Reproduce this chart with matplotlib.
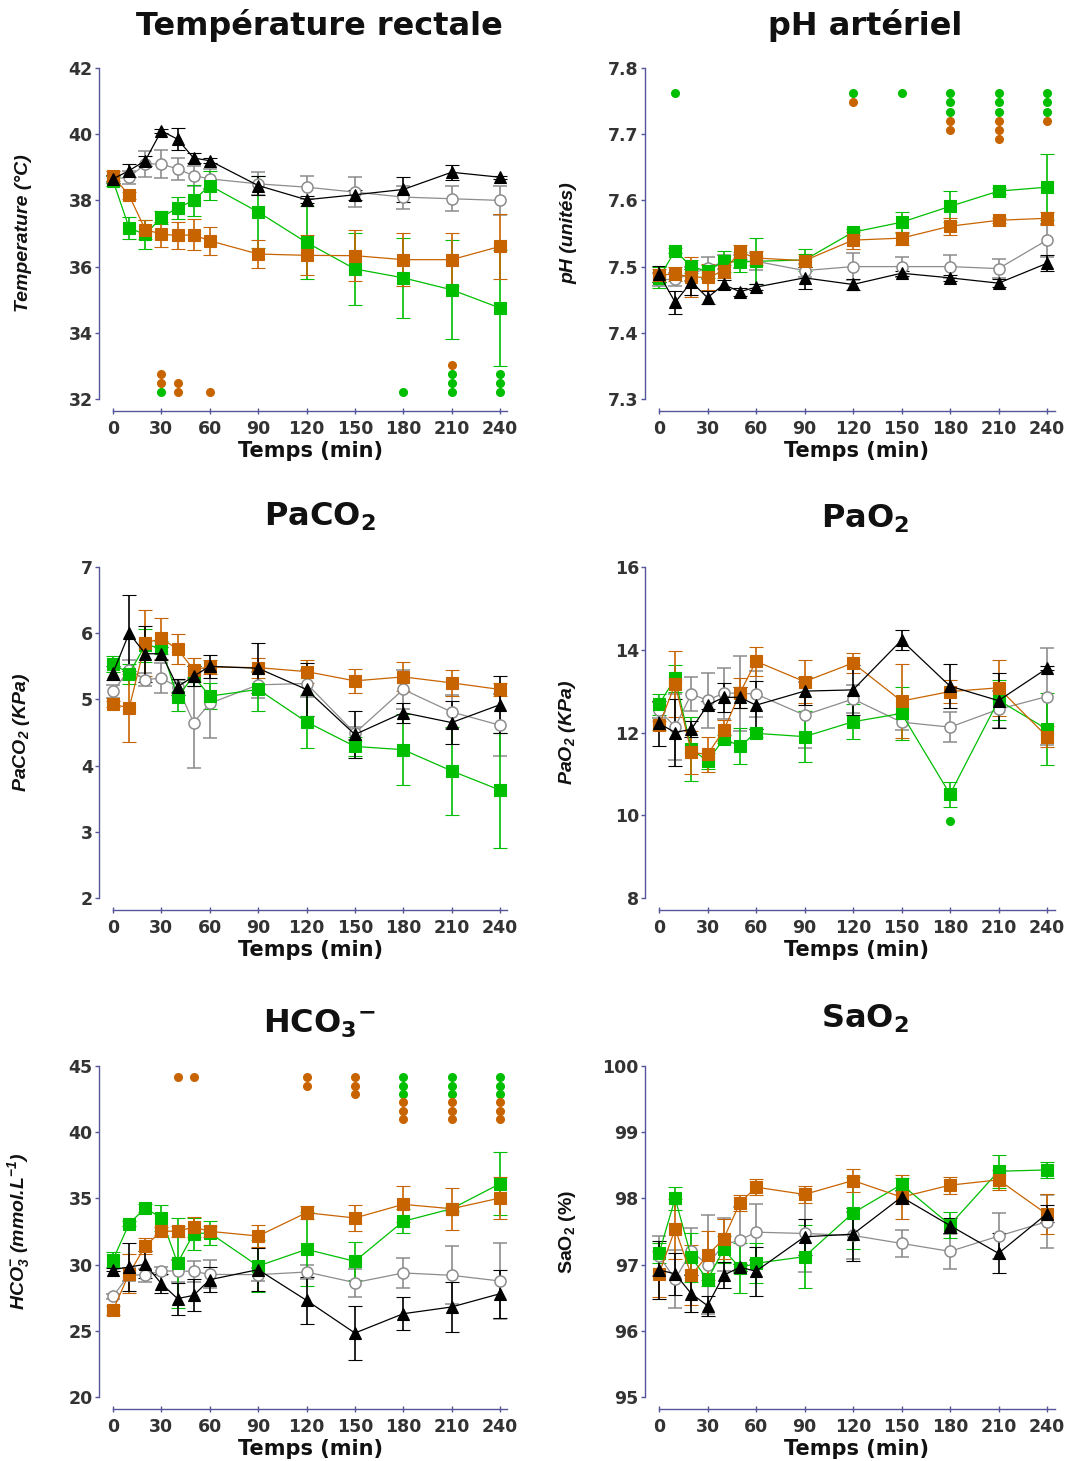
import matplotlib
matplotlib.use('Agg')
import matplotlib.pyplot as plt

plt.rcParams['font.family'] = ['DejaVu Sans']
plt.rcParams['mathtext.default'] = 'regular'

temps = [0, 10, 20, 30, 40, 50, 60, 90, 120, 150, 180, 210, 240]
xticks = [0, 30, 60, 90, 120, 150, 180, 210, 240]

# Température rectale (°C)
temp_noir = [38.65, 38.9, 39.2, 40.1, 39.85, 39.28, 39.2, 38.45, 38.02, 38.17, 38.33, 38.85, 38.7]
temp_noir_sd = [0.12, 0.2, 0.15, 0.05, 0.33, 0.15, 0.08, 0.3, 0.1, 0.15, 0.37, 0.22, 0.05]
temp_gris = [38.65, 38.7, 39.1, 39.1, 38.95, 38.75, 38.65, 38.5, 38.4, 38.25, 38.1, 38.05, 38.0]
temp_gris_sd = [0.1, 0.2, 0.38, 0.43, 0.32, 0.3, 0.3, 0.35, 0.35, 0.45, 0.35, 0.38, 0.45]
temp_vert = [38.6, 37.17, 36.97, 37.49, 37.77, 38.0, 38.45, 37.65, 36.73, 35.93, 35.66, 35.3, 34.75]
temp_vert_sd = [0.15, 0.33, 0.45, 0.2, 0.32, 0.46, 0.45, 1.1, 1.1, 1.1, 1.2, 1.5, 1.75]
temp_orange = [38.73, 38.15, 37.12, 36.98, 36.94, 36.96, 36.78, 36.38, 36.34, 36.33, 36.21, 36.21, 36.61]
temp_orange_sd = [0.15, 0.1, 0.3, 0.38, 0.42, 0.47, 0.43, 0.42, 0.6, 0.77, 0.8, 0.8, 0.97]

# pH artériel
ph_noir = [7.489, 7.446, 7.477, 7.453, 7.473, 7.462, 7.469, 7.483, 7.473, 7.490, 7.483, 7.475, 7.505]
ph_noir_sd = [0.012, 0.017, 0.02, 0.01, 0.007, 0.006, 0.004, 0.017, 0.008, 0.004, 0.004, 0.006, 0.012]
ph_gris = [7.480, 7.481, 7.489, 7.498, 7.507, 7.508, 7.508, 7.494, 7.5, 7.5, 7.5, 7.497, 7.54]
ph_gris_sd = [0.01, 0.01, 0.01, 0.016, 0.01, 0.01, 0.013, 0.01, 0.02, 0.015, 0.017, 0.014, 0.025]
ph_vert = [7.483, 7.524, 7.5, 7.493, 7.508, 7.507, 7.508, 7.51, 7.552, 7.567, 7.591, 7.614, 7.620]
ph_vert_sd = [0.016, 0.004, 0.01, 0.01, 0.016, 0.015, 0.035, 0.016, 0.005, 0.016, 0.023, 0.005, 0.05]
ph_orange = [7.487, 7.489, 7.484, 7.484, 7.493, 7.522, 7.513, 7.509, 7.54, 7.543, 7.561, 7.57, 7.573]
ph_orange_sd = [0.01, 0.01, 0.03, 0.02, 0.01, 0.01, 0.01, 0.01, 0.013, 0.01, 0.013, 0.004, 0.01]

# PaCO2 (KPa)
paco2_noir = [5.4, 6.0, 5.69, 5.69, 5.19, 5.35, 5.5, 5.47, 5.15, 4.47, 4.8, 4.65, 4.92]
paco2_noir_sd = [0.1, 0.57, 0.42, 0.1, 0.12, 0.15, 0.17, 0.38, 0.4, 0.35, 0.15, 0.32, 0.43]
paco2_gris = [5.12, 5.45, 5.3, 5.32, 5.19, 4.65, 4.94, 5.22, 5.24, 4.49, 5.15, 4.81, 4.61]
paco2_gris_sd = [0.1, 0.15, 0.1, 0.23, 0.1, 0.68, 0.52, 0.2, 0.2, 0.1, 0.3, 0.25, 0.47]
paco2_vert = [5.54, 5.39, 5.82, 5.78, 5.04, 5.35, 5.05, 5.15, 4.66, 4.29, 4.24, 3.92, 3.63]
paco2_vert_sd = [0.12, 0.15, 0.25, 0.1, 0.22, 0.15, 0.2, 0.33, 0.4, 0.14, 0.54, 0.67, 0.87]
paco2_orange = [4.93, 4.87, 5.85, 5.92, 5.76, 5.45, 5.49, 5.48, 5.42, 5.28, 5.34, 5.25, 5.15]
paco2_orange_sd = [0.05, 0.52, 0.5, 0.31, 0.23, 0.18, 0.1, 0.15, 0.17, 0.18, 0.22, 0.2, 0.1]

# PaO2 (KPa)
pao2_noir = [12.22, 12.0, 12.08, 12.66, 12.85, 12.85, 12.66, 13.0, 13.03, 14.23, 13.12, 12.77, 13.55]
pao2_noir_sd = [0.55, 0.8, 0.2, 0.1, 0.35, 0.25, 0.58, 0.33, 0.6, 0.24, 0.53, 0.67, 0.05]
pao2_gris = [12.54, 12.14, 12.93, 12.78, 12.95, 12.95, 12.93, 12.42, 12.81, 12.25, 12.13, 12.56, 12.87]
pao2_gris_sd = [0.2, 0.8, 0.42, 0.67, 0.62, 0.91, 0.55, 0.8, 0.35, 0.2, 0.37, 0.45, 1.18]
pao2_vert = [12.68, 13.31, 11.6, 11.31, 11.84, 11.68, 11.98, 11.9, 12.26, 12.46, 10.51, 12.78, 12.08]
pao2_vert_sd = [0.25, 0.32, 0.77, 0.2, 0.1, 0.44, 0.1, 0.62, 0.42, 0.64, 0.3, 0.48, 0.87]
pao2_orange = [12.17, 13.17, 11.52, 11.47, 12.05, 12.95, 13.72, 13.23, 13.68, 12.76, 12.99, 13.08, 11.9]
pao2_orange_sd = [0.1, 0.8, 0.52, 0.42, 0.25, 0.36, 0.35, 0.52, 0.24, 0.9, 0.28, 0.68, 0.25]

# HCO3- (mmol/L)
hco3_noir = [29.62, 29.82, 30.02, 28.56, 27.43, 27.68, 28.86, 29.62, 27.3, 24.83, 26.29, 26.8, 27.8]
hco3_noir_sd = [0.1, 1.8, 1.0, 0.7, 1.2, 1.2, 0.95, 1.6, 1.75, 2.05, 1.26, 1.9, 1.8]
hco3_gris = [27.6, 29.24, 29.19, 29.52, 29.52, 29.49, 29.26, 29.24, 29.44, 28.64, 29.37, 29.19, 28.76]
hco3_gris_sd = [0.2, 0.5, 0.5, 0.3, 0.8, 0.8, 1.05, 0.5, 0.5, 1.05, 1.15, 2.2, 2.9]
hco3_vert = [30.37, 33.09, 34.27, 33.52, 30.12, 32.34, 32.39, 29.89, 31.15, 30.25, 33.27, 34.22, 36.11]
hco3_vert_sd = [0.55, 0.2, 0.3, 0.95, 3.4, 1.2, 0.9, 1.95, 2.8, 1.45, 0.9, 0.15, 2.4]
hco3_orange = [26.55, 29.32, 31.4, 32.54, 32.51, 32.84, 32.51, 32.16, 33.92, 33.52, 34.55, 34.22, 35.03]
hco3_orange_sd = [0.35, 1.45, 0.6, 0.3, 0.4, 0.75, 0.4, 0.85, 0.5, 0.95, 1.35, 1.58, 1.6]

# SaO2 (%)
sao2_noir = [96.92, 96.86, 96.56, 96.38, 96.84, 96.96, 96.9, 97.42, 97.46, 98.02, 97.59, 97.17, 97.77]
sao2_noir_sd = [0.44, 0.32, 0.28, 0.15, 0.2, 0.05, 0.37, 0.27, 0.4, 0.1, 0.12, 0.3, 0.13]
sao2_gris = [97.13, 96.78, 97.2, 97.0, 97.3, 97.37, 97.49, 97.47, 97.44, 97.32, 97.2, 97.43, 97.65]
sao2_gris_sd = [0.3, 0.44, 0.35, 0.75, 0.4, 0.5, 0.42, 0.58, 0.35, 0.21, 0.26, 0.35, 0.4]
sao2_vert = [97.17, 98.0, 97.11, 96.77, 97.23, 96.95, 97.02, 97.12, 97.78, 98.21, 97.6, 98.41, 98.43]
sao2_vert_sd = [0.15, 0.17, 0.37, 0.1, 0.2, 0.38, 0.3, 0.48, 0.55, 0.1, 0.2, 0.25, 0.12]
sao2_orange = [96.86, 97.54, 96.84, 97.14, 97.39, 97.93, 98.17, 98.06, 98.27, 98.02, 98.2, 98.28, 97.76]
sao2_orange_sd = [0.35, 0.45, 0.45, 0.37, 0.3, 0.12, 0.12, 0.13, 0.17, 0.33, 0.13, 0.15, 0.3]

# significance dots: (time, n green, n orange), stacked from a start value
temp_sig = [(30, 1, 2), (40, 0, 2), (60, 0, 1), (180, 1, 0), (210, 3, 1), (240, 3, 0)]
ph_sig = [(10, 1, 0), (120, 1, 1), (150, 1, 0), (180, 3, 2), (210, 3, 3), (240, 3, 1)]
pao2_sig = [(180, 1, 0)]
hco3_sig = [(40, 0, 1), (50, 0, 1), (120, 0, 2), (150, 0, 3), (180, 3, 3), (210, 3, 3), (240, 3, 3)]

GREEN = '#00BE00'
ORANGE = '#C86400'
GRAY = '#8C8C8C'
BLACK = '#000000'
SPINE = '#55559A'

# style per series: gris, vert, orange, noir (drawing order)
styles = [
    dict(color=GRAY, marker='o', ms=8, mfc='white', mec=GRAY, mew=1.1),
    dict(color=GREEN, marker='s', ms=8, mfc=GREEN, mec=GREEN, mew=0.8),
    dict(color=ORANGE, marker='s', ms=8, mfc=ORANGE, mec=ORANGE, mew=0.8),
    dict(color=BLACK, marker='^', ms=8.5, mfc=BLACK, mec=BLACK, mew=0.8),
]

panels = [
    dict(series=[(temp_gris, temp_gris_sd), (temp_vert, temp_vert_sd),
                 (temp_orange, temp_orange_sd), (temp_noir, temp_noir_sd)],
         ylim=(32, 42), yticks=[32, 34, 36, 38, 40, 42], fmt='{:.0f}',
         title='Température rectale', ylabel='Temperature (°C)', italic=True,
         sig=temp_sig, sig_start=32.2, sig_step=0.28, title_y=1.10),
    dict(series=[(ph_gris, ph_gris_sd), (ph_vert, ph_vert_sd),
                 (ph_orange, ph_orange_sd), (ph_noir, ph_noir_sd)],
         ylim=(7.3, 7.8), yticks=[7.3, 7.4, 7.5, 7.6, 7.7, 7.8], fmt='{:.1f}',
         title='pH artériel', ylabel='pH (unités)', italic=True,
         sig=ph_sig, sig_start=7.762, sig_step=-0.014, title_y=1.10),
    dict(series=[(paco2_gris, paco2_gris_sd), (paco2_vert, paco2_vert_sd),
                 (paco2_orange, paco2_orange_sd), (paco2_noir, paco2_noir_sd)],
         ylim=(2, 7), yticks=[2, 3, 4, 5, 6, 7], fmt='{:.0f}',
         title='PaCO$_2$', ylabel='PaCO$_2$ (KPa)', italic=True,
         sig=[], sig_start=0, sig_step=0, title_y=1.125),
    dict(series=[(pao2_gris, pao2_gris_sd), (pao2_vert, pao2_vert_sd),
                 (pao2_orange, pao2_orange_sd), (pao2_noir, pao2_noir_sd)],
         ylim=(8, 16), yticks=[8, 10, 12, 14, 16], fmt='{:.0f}',
         title='PaO$_2$', ylabel='PaO$_2$ (KPa)', italic=True,
         sig=pao2_sig, sig_start=9.85, sig_step=0, title_y=1.12),
    dict(series=[(hco3_gris, hco3_gris_sd), (hco3_vert, hco3_vert_sd),
                 (hco3_orange, hco3_orange_sd), (hco3_noir, hco3_noir_sd)],
         ylim=(20, 45), yticks=[20, 25, 30, 35, 40, 45], fmt='{:.0f}',
         title='HCO$_3$$^{-}$', ylabel='HCO$_3^{-}$ (mmol.L$^{-1}$)', italic=True,
         sig=hco3_sig, sig_start=44.15, sig_step=-0.63, title_y=1.10),
    dict(series=[(sao2_gris, sao2_gris_sd), (sao2_vert, sao2_vert_sd),
                 (sao2_orange, sao2_orange_sd), (sao2_noir, sao2_noir_sd)],
         ylim=(95, 100), yticks=[95, 96, 97, 98, 99, 100], fmt='{:.0f}',
         title='SaO$_2$', ylabel='SaO$_2$ (%)', italic=False,
         sig=[], sig_start=0, sig_step=0, title_y=1.115),
]

W, H = 1083, 1461
fig = plt.figure(figsize=(W / 100, H / 100), dpi=100)

# axes boxes in pixels (left, right, top, bottom of data area)
cols = [(113, 507), (659, 1055)]
rows = [(68, 399), (567, 898), (1066, 1397)]

for i, p in enumerate(panels):
    x0, x1 = cols[i % 2]
    y0, y1 = rows[i // 2]
    ax = fig.add_axes([x0 / W, 1 - y1 / H, (x1 - x0) / W, (y1 - y0) / H])

    for (moy, sd), st in zip(p['series'], styles):
        eb = ax.errorbar(temps, moy, yerr=sd, lw=0.9, elinewidth=1.2,
                         capsize=4.8, capthick=1.2, clip_on=False, **st)
        for cap in eb.lines[1]:
            cap.set_clip_on(False)
        for bar in eb.lines[2]:
            bar.set_clip_on(False)

    # significance dots
    for t, n_vert, n_orange in p['sig']:
        cols_dots = [GREEN] * n_vert + [ORANGE] * n_orange
        for k, c in enumerate(cols_dots):
            ax.plot(t, p['sig_start'] + k * p['sig_step'], 'o', ms=5.5,
                    color=c, mec=c, clip_on=False)

    ax.set_xlim(0, 240 * (x1 - x0) / (387 if i % 2 == 0 else 388))
    ax.set_ylim(*p['ylim'])
    ax.set_xticks(xticks)
    ax.set_xticklabels([str(t) for t in xticks])
    ax.set_yticks(p['yticks'])
    ax.set_yticklabels([p['fmt'].format(v) for v in p['yticks']])

    for s in ['top', 'right']:
        ax.spines[s].set_visible(False)
    ax.spines['left'].set_position(('outward', 10))
    ax.spines['bottom'].set_position(('outward', 8.6))
    for s in ['left', 'bottom']:
        ax.spines[s].set_color(SPINE)
        ax.spines[s].set_linewidth(1.0)
    ax.tick_params(axis='y', direction='out', length=3, width=1.0, color=SPINE,
                   pad=1.5, labelsize=12.5, labelcolor='#333333')
    ax.tick_params(axis='x', direction='inout', length=5, width=1.0, color=SPINE,
                   pad=4, labelsize=12.5, labelcolor='#333333')
    for lab in ax.get_xticklabels() + ax.get_yticklabels():
        lab.set_fontweight('bold')

    ax.set_xlabel('Temps (min)', fontsize=15, fontweight='bold', color='#111111',
                  labelpad=2)
    ax.set_ylabel(p['ylabel'], fontsize=14, fontweight='bold', family='Liberation Sans',
                  style='italic' if p['italic'] else 'normal', color='#111111')
    ax.yaxis.set_label_coords(-0.205, 0.5)
    ax.set_title(p['title'], fontsize=23, fontweight='bold', color='#111111',
                 x=0.525 if i % 2 == 0 else 0.52, y=p['title_y'], pad=0)

fig.savefig('out.png', dpi=100)
